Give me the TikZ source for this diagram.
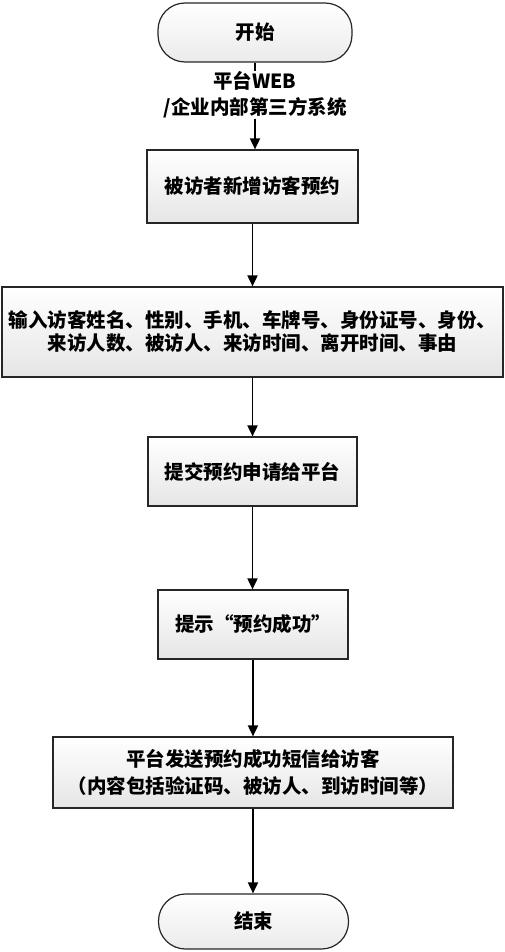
\documentclass[tikz,border=0pt]{standalone}
\usepackage{fontspec}
\newfontfamily\cjk{Noto Sans CJK SC}
\usetikzlibrary{arrows.meta,positioning}
\begin{document}
\begin{tikzpicture}[x=1pt,y=-1pt,
  every node/.style={font=\cjk\bfseries\fontsize{19.5}{26}\selectfont, text=black},
  procbox/.style={draw=black!85, line width=1.2pt, rectangle, top color=white, bottom color=black!10, align=center, inner sep=0pt},
  termbox/.style={draw=black!85, line width=1.2pt, rectangle, rounded corners=27pt, top color=white, bottom color=black!8, align=center, inner sep=0pt},
  flow/.style={line width=1.8pt, black, -{Triangle[length=11pt,width=10pt]}},
  plainline/.style={line width=1.8pt, black}
]
\useasboundingbox (0,0) rectangle (505,952);
\node[termbox, minimum width=194pt, minimum height=59pt] (start) at (255,32.5) {开始};
\node[align=center, inner sep=0pt] (lbl) at (255,95) {平台WEB\\/企业内部第三方系统};
\node[procbox, minimum width=211pt, minimum height=73pt] (b1) at (252.5,186.5) {被访者新增访客预约};
\node[procbox, minimum width=501pt, minimum height=90pt, font=\cjk\bfseries\fontsize{19.5}{23}\selectfont] (b2) at (252.5,332) {输入访客姓名、性别、手机、车牌号、身份证号、身份、\\来访人数、被访人、来访时间、离开时间、事由};
\node[procbox, minimum width=209pt, minimum height=69pt] (b3) at (252.5,471.5) {提交预约申请给平台};
\node[procbox, minimum width=190pt, minimum height=69pt] (b4) at (253,624.5) {提示“预约成功”};
\node[procbox, minimum width=400pt, minimum height=71pt, font=\cjk\bfseries\fontsize{19.5}{27}\selectfont] (b5) at (253,772.5) {平台发送预约成功短信给访客\\（内容包括验证码、被访人、到访时间等）};
\node[termbox, minimum width=190pt, minimum height=55pt] (end) at (253.5,921.5) {结束};
\draw[plainline] (start.south) -- (start.south |- lbl.north);
\draw[flow] (lbl.south) -- (lbl.south |- b1.north);
\draw[flow] (b1.south) -- (b1.south |- b2.north);
\draw[flow] (b2.south) -- (b2.south |- b3.north);
\draw[flow] (b3.south) -- (b3.south |- b4.north);
\draw[flow] (b4.south) -- (b4.south |- b5.north);
\draw[flow] (b5.south) -- (b5.south |- end.north);
\end{tikzpicture}
\end{document}
